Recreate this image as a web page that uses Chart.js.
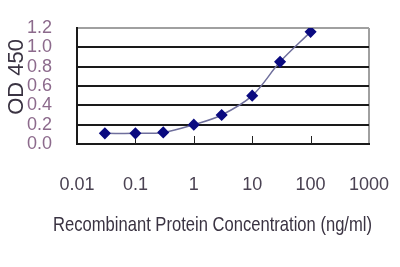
<!DOCTYPE html>
<html lang="en">
<head>
<meta charset="UTF-8">
<title>OD 450 vs Recombinant Protein Concentration</title>
<script src="https://cdn.jsdelivr.net/npm/chart.js"></script>
<style>
  html, body { margin: 0; padding: 0; background: #fff; }
</style>
</head>
<body>
<canvas id="odChart" width="400" height="267"></canvas>
<script>
// concentration (ng/ml) and measured OD 450
const concentrations = [0.03, 0.1, 0.3, 1, 3, 10, 30, 100];
const odValues = [0.11, 0.11, 0.12, 0.20, 0.30, 0.50, 0.85, 1.16];
const xTicks = [0.01, 0.1, 1, 10, 100, 1000];
const yTicks = [0, 0.2, 0.4, 0.6, 0.8, 1.0, 1.2];
const xTitle = 'Recombinant Protein Concentration (ng/ml)';

const sans = '"Liberation Sans", Arial, sans-serif';

// fixed axis box sizes, no extra label overflow padding
function fixBox(s, w, h) {
    if (w) s.width = w;
    if (h) s.height = h;
    s.paddingLeft = s.paddingRight = s.paddingTop = s.paddingBottom = 0;
}

// inner decade tick marks + x title (condensed text, wider than the plot)
const extras = {
    id: 'extras',
    beforeDatasetsDraw(chart) {
        const xs = chart.scales.x, area = chart.chartArea, ctx = chart.ctx;
        ctx.save();
        ctx.strokeStyle = '#222';
        ctx.lineWidth = 1;
        xTicks.slice(1, -1).forEach(v => {
            const px = Math.round(xs.getPixelForValue(v)) + 0.5;
            ctx.beginPath();
            ctx.moveTo(px, area.bottom);
            ctx.lineTo(px, area.bottom - 8);
            ctx.stroke();
        });
        ctx.restore();
    },
    afterDraw(chart) {
        const area = chart.chartArea, ctx = chart.ctx;
        ctx.save();
        ctx.fillStyle = '#3a3342';
        ctx.font = '21px ' + sans;
        ctx.textAlign = 'center';
        ctx.textBaseline = 'middle';
        ctx.fillText(xTitle, (area.left + area.right) / 2 - 10.5, area.bottom + 81, 319);
        ctx.restore();
    }
};

new Chart(document.getElementById('odChart').getContext('2d'), {
    type: 'line',
    data: {
        datasets: [{
            data: concentrations.map((c, i) => ({ x: c, y: odValues[i] })),
            borderColor: '#6f6f9c',
            borderWidth: 1.5,
            tension: 0.35,
            pointStyle: 'rectRot',
            pointRadius: 5,
            pointBackgroundColor: '#0a0a80',
            pointBorderColor: '#0a0a80',
            fill: false
        }]
    },
    plugins: [extras],
    options: {
        responsive: false,
        animation: false,
        layout: { padding: { top: 28, right: 31, left: 0, bottom: 0 } },
        plugins: { legend: { display: false }, tooltip: { enabled: false } },
        scales: {
            x: {
                type: 'logarithmic',
                min: 0.01,
                max: 1000,
                afterBuildTicks: s => { s.ticks = xTicks.map(v => ({ value: v })); },
                afterFit: s => fixBox(s, 0, 123),
                border: { color: '#1a1a1a', width: 2 },
                grid: {
                    drawTicks: false,
                    color: c => c.tick && c.tick.value === 1000 ? '#a0a0a0' : 'rgba(0,0,0,0)',
                    lineWidth: 2
                },
                ticks: {
                    padding: 30,
                    maxRotation: 0,
                    autoSkip: false,
                    color: '#4a4252',
                    font: { family: sans, size: 18 },
                    callback: v => String(v)
                }
            },
            y: {
                min: 0,
                max: 1.2,
                afterBuildTicks: s => { s.ticks = yTicks.map(v => ({ value: v })); },
                afterFit: s => fixBox(s, 77, 0),
                border: { color: '#1a1a1a', width: 2 },
                grid: {
                    drawTicks: false,
                    color: c => c.tick && c.tick.value >= 1.2 ? '#a0a0a0' : '#1a1a1a',
                    lineWidth: 2
                },
                ticks: {
                    padding: 25,
                    autoSkip: false,
                    color: '#8c6a8c',
                    font: { family: sans, size: 18 },
                    callback: v => v.toFixed(1)
                },
                title: {
                    display: true,
                    text: '   OD 450',
                    color: '#3a3342',
                    font: { family: sans, size: 22 },
                    padding: { top: 4, bottom: 0 }
                }
            }
        }
    }
});
</script>
</body>
</html>
